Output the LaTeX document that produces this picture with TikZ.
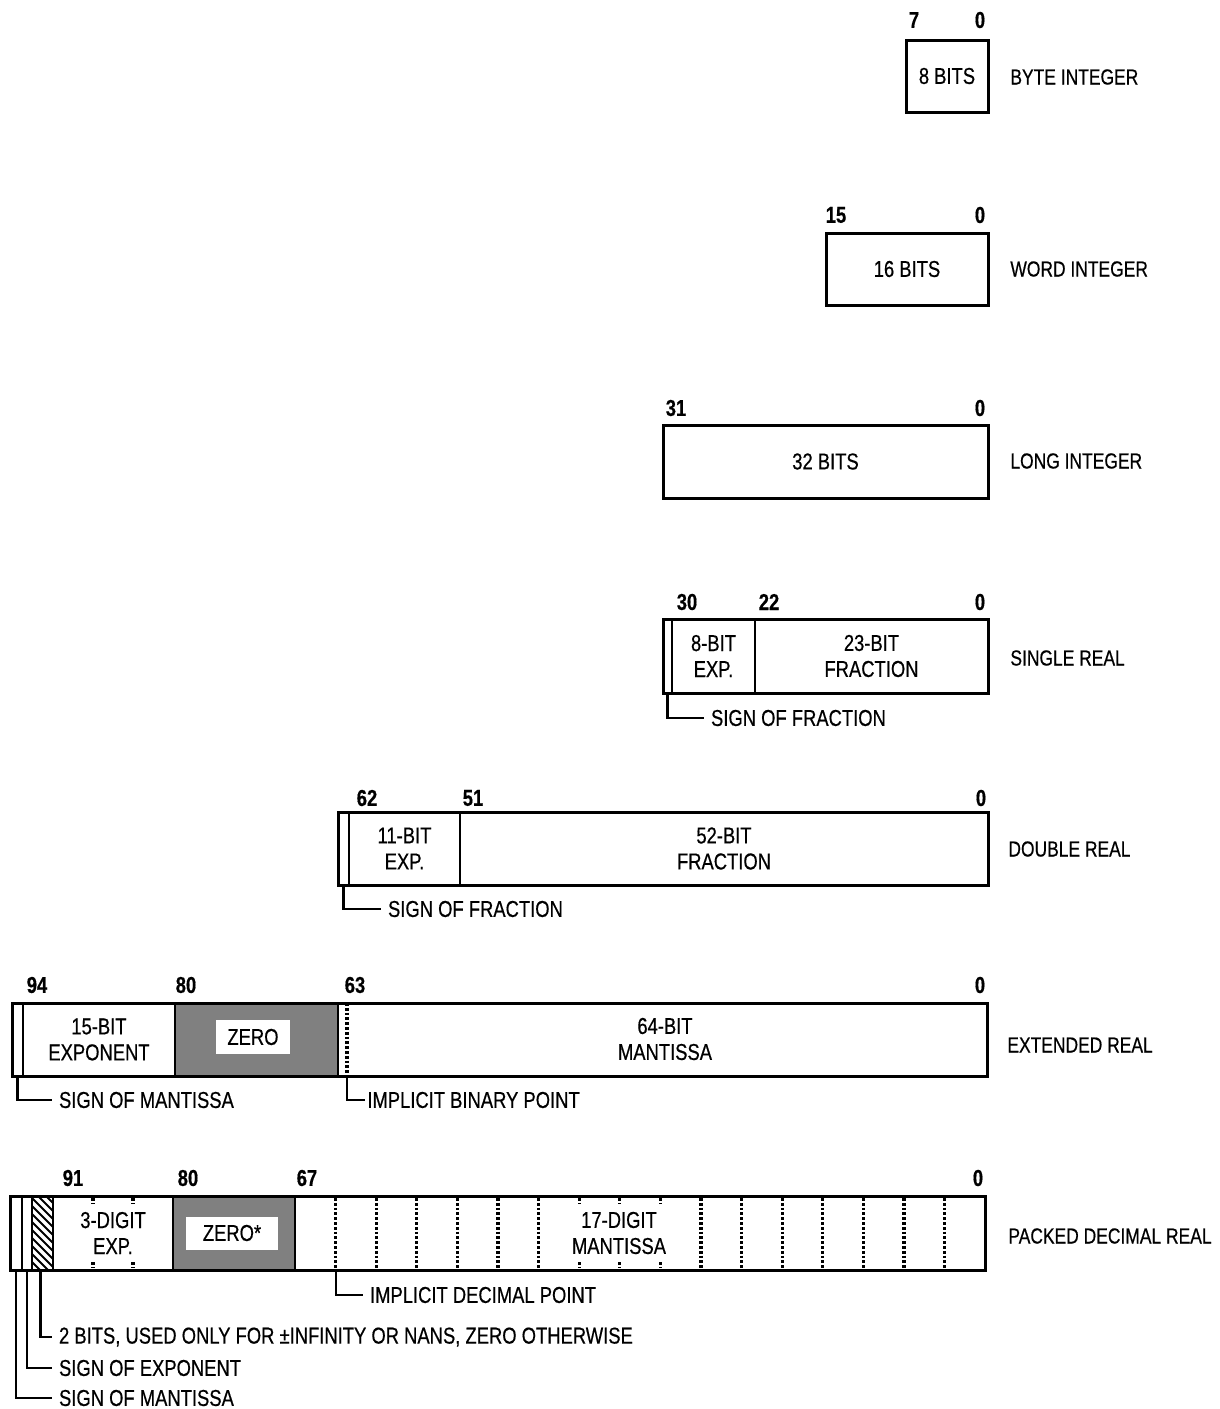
\documentclass[tikz,border=0pt]{standalone}
\usepackage{fontspec}
\setmainfont[FakeStretch=0.8,FakeBold=0.5]{Liberation Sans}
\usetikzlibrary{fit}
\begin{document}
\begin{tikzpicture}[x=0.5pt,y=-0.5pt,
  fld/.style={draw, line width=1.1pt, inner sep=0pt},
  outerbox/.style={draw, line width=1.5pt, inner sep=0pt},
  txt/.style={font=\fontsize{11.5}{13}\selectfont, align=center},
  num/.style={font=\fontsize{11.5}{13}\selectfont\bfseries},
  tname/.style={font=\fontsize{10.9}{13}\selectfont, anchor=west, inner sep=0pt},
  leg/.style={font=\fontsize{11.5}{13}\selectfont, anchor=west},
  lead/.style={line width=1.1pt},
  stip/.style={fill=black!50},
  digline/.style={line width=1.6pt, dash pattern=on 1.4pt off 1pt},
  zbox/.style={fill=white, font=\fontsize{11.5}{13}\selectfont, inner sep=0pt},
]
\useasboundingbox (0,0) rectangle (1220,1409);

% ---------- BYTE INTEGER ----------
\node[outerbox, fit={(906,40)(988,112)}] (byte) {};
\node[txt] (bytet) at (byte.center) {8 BITS};
\node[num] (b7) at (914,20) {7};
\node[num] (b0) at (980,20) {0};
\node[tname] (byten) at (1010,77) {BYTE INTEGER};

% ---------- WORD INTEGER ----------
\node[outerbox, fit={(826,233)(988,305)}] (word) {};
\node[txt] (wordt) at (word.center) {16 BITS};
\node[num] (w15) at (836,215) {15};
\node[num] (w0) at (980,215) {0};
\node[tname] (wordn) at (1010,269) {WORD INTEGER};

% ---------- LONG INTEGER ----------
\node[outerbox, fit={(663,425)(988,498)}] (long) {};
\node[txt] (longt) at (long.center) {32 BITS};
\node[num] (l31) at (676,408) {31};
\node[num] (l0) at (980,408) {0};
\node[tname] (longn) at (1010,461) {LONG INTEGER};

% ---------- SINGLE REAL ----------
\node[fld, fit={(663,619)(672,693)}] (ss) {};
\node[fld, fit={(672,619)(755,693)}] (sx) {};
\node[fld, fit={(755,619)(988,693)}] (sf) {};
\node[outerbox, fit={(663,619)(988,693)}] (single) {};
\node[txt] (sxt) at (sx.center) {8-BIT\\EXP.};
\node[txt] (sft) at (sf.center) {23-BIT\\FRACTION};
\node[num] (s30) at (687,602) {30};
\node[num] (s22) at (769,602) {22};
\node[num] (s0) at (980,602) {0};
\node[tname] (singlen) at (1010,658) {SINGLE REAL};
\node[leg] (ssl) at (704,718) {SIGN OF FRACTION};
\draw[lead] (ss.south) |- (ssl.west);

% ---------- DOUBLE REAL ----------
\node[fld, fit={(338,812)(349,885)}] (ds) {};
\node[fld, fit={(349,812)(460,885)}] (dx) {};
\node[fld, fit={(460,812)(988,885)}] (df) {};
\node[outerbox, fit={(338,812)(988,885)}] (double) {};
\node[txt] (dxt) at (dx.center) {11-BIT\\EXP.};
\node[txt] (dft) at (df.center) {52-BIT\\FRACTION};
\node[num] (d62) at (367,798) {62};
\node[num] (d51) at (473,798) {51};
\node[num] (d0) at (981,798) {0};
\node[tname] (doublen) at (1008,849) {DOUBLE REAL};
\node[leg] (dsl) at (381,909) {SIGN OF FRACTION};
\draw[lead] (ds.south) |- (dsl.west);

% ---------- EXTENDED REAL ----------
\node[fld, fit={(12,1003)(23,1076)}] (es) {};
\node[fld, fit={(23,1003)(175,1076)}] (ex) {};
\node[fld, stip, fit={(175,1003)(338,1076)}] (ez) {};
\node[fld, fit={(338,1003)(987,1076)}] (em) {};
\node[outerbox, fit={(12,1003)(987,1076)}] (ext) {};
\node[zbox, minimum width=37pt, minimum height=17pt] (ezt) at (253,1037) {ZERO};
\node[txt] (ext2) at (ex.center) {15-BIT\\EXPONENT};
\node[txt] (emt) at (665,1039) {64-BIT\\MANTISSA};
\coordinate (bpt) at (347,1003);
\coordinate (bpb) at (347,1076);
\draw[digline] (bpt) -- (bpb);
\node[num] (e94) at (37,985) {94};
\node[num] (e80) at (186,985) {80};
\node[num] (e63) at (355,985) {63};
\node[num] (e0) at (980,985) {0};
\node[tname] (extn) at (1007,1045) {EXTENDED REAL};
\node[leg] (esl) at (52,1100) {SIGN OF MANTISSA};
\node[leg, inner sep=1pt] (ebp) at (365,1100) {IMPLICIT BINARY POINT};
\draw[lead] (es.south) |- (esl.west);
\draw[lead] (bpb) |- (ebp.west);

% ---------- PACKED DECIMAL REAL ----------
\node[fld, fit={(10,1196)(22,1270)}] (pm) {};
\node[fld, fit={(22,1196)(32,1270)}] (pe) {};
\begin{scope}
  \clip (32,1196) rectangle (53,1270);
  \foreach \i in {-30,-22,...,80}
    \draw[line width=1pt] (32,1196+\i) -- ++(40,40);
\end{scope}
\node[fld, fit={(32,1196)(53,1270)}] (ph) {};
\node[fld, fit={(53,1196)(173,1270)}] (px) {};
\node[fld, stip, fit={(173,1196)(295,1270)}] (pz) {};
\node[fld, fit={(295,1196)(985,1270)}] (pmn) {};
% digit boundaries in the mantissa
\foreach \k in {1,...,6,10,11,...,16}
  \draw[digline] (295+40.6*\k,1198) -- (295+40.6*\k,1268);
\foreach \k in {7,8,9}{
  \draw[digline] (295+40.6*\k,1198) -- (295+40.6*\k,1204);
  \draw[digline] (295+40.6*\k,1262) -- (295+40.6*\k,1268);
}
% digit boundaries in the exponent
\foreach \xx in {93,133}{
  \draw[digline] (\xx,1198) -- (\xx,1204);
  \draw[digline] (\xx,1262) -- (\xx,1268);
}
\node[outerbox, fit={(10,1196)(985,1270)}] (packed) {};
\node[zbox, minimum width=46pt, minimum height=16.5pt] (pzt) at (232,1233) {ZERO*};
\node[txt] (pxt) at (px.center) {3-DIGIT\\EXP.};
\node[txt] (pmt) at (619,1233) {17-DIGIT\\MANTISSA};
\node[num] (p91) at (73,1178) {91};
\node[num] (p80) at (188,1178) {80};
\node[num] (p67) at (307,1178) {67};
\node[num] (p0) at (978,1178) {0};
\node[tname] (packedn) at (1008,1236) {PACKED DECIMAL REAL};
\coordinate (dp) at (335.6,1270);
\node[leg] (idp) at (363,1295) {IMPLICIT DECIMAL POINT};
\draw[lead] (dp) |- (idp.west);
\node[leg] (pl1) at (52,1337) {2 BITS, USED ONLY FOR ±INFINITY OR NANS, ZERO OTHERWISE};
\node[leg] (pl2) at (52,1368) {SIGN OF EXPONENT};
\node[leg] (pl3) at (52,1398) {SIGN OF MANTISSA};
\draw[lead] ([xshift=-1pt]ph.south) |- (pl1.west);
\draw[lead] (pe.south) |- (pl2.west);
\draw[lead] (pm.south) |- (pl3.west);
\end{tikzpicture}
\end{document}
